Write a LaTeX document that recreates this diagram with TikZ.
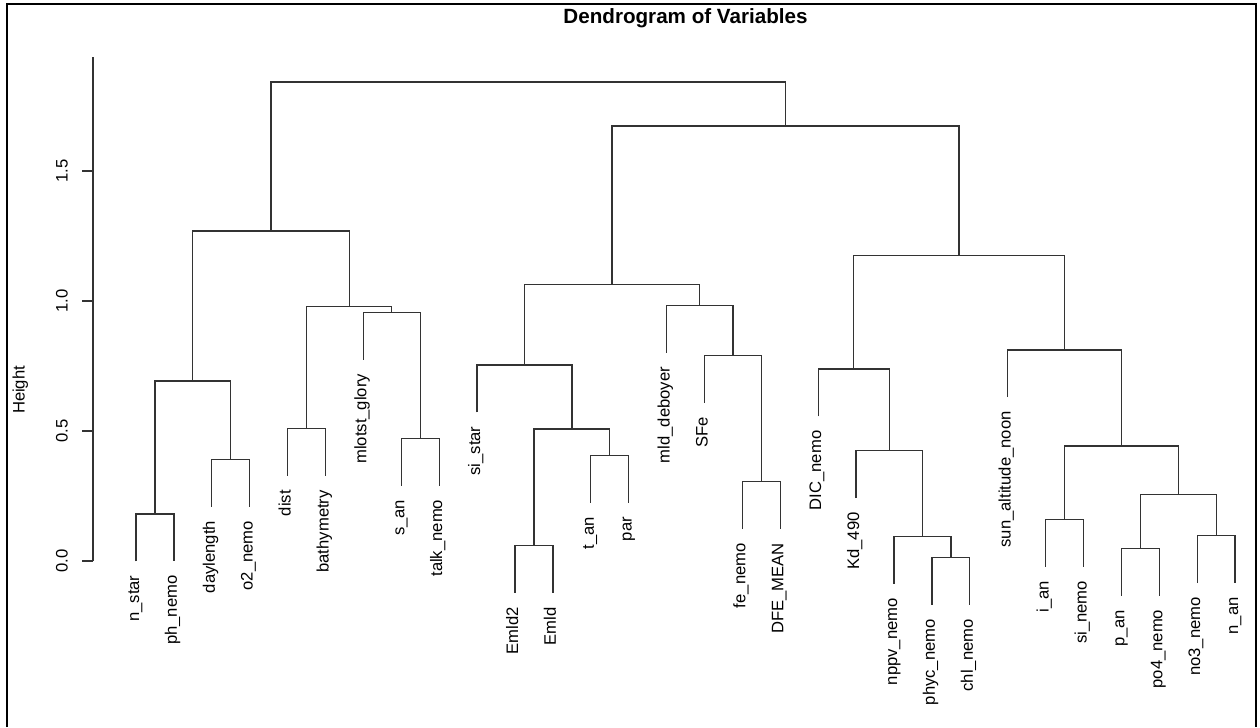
\documentclass[tikz,border=0pt]{standalone}
\usepackage{fontspec}
\setmainfont{Liberation Sans}
\usepackage{tikz}
\usetikzlibrary{positioning, calc}
\tikzset{
	branch/.style={
			draw=black!80,
			line width=1.1pt
		},
	framebox/.style={
			draw=black,
			line width=1.7pt
		},
	leaflabel/.style={
			rotate=90,
			anchor=base east,
			inner sep=0pt,
			font=\fontsize{14.2pt}{17pt}\selectfont
		},
	ticklabel/.style={
			rotate=90,
			anchor=base,
			inner sep=0pt,
			font=\fontsize{14.2pt}{17pt}\selectfont
		}
}
\tikzset{
	titletext/.style={anchor=base, inner sep=0pt, font=\fontsize{17.6pt}{21pt}\selectfont\bfseries}
}

\begin{document}
\begin{tikzpicture}[x=0.03cm, y=7.8cm]
\useasboundingbox (0,-0.63846) rectangle (1260,2.15769);

\draw[framebox] (7,-0.63846) -- (7,2.1435) -- (1256,2.1435) -- (1256,-0.63846);

\node[titletext] (title) at (685.5,2.068) {Dendrogram of Variables};

% axis
\draw[branch] (93,0) -- (93,1.937);
\draw[branch] (93,0) -- (82.3,0);
\draw[branch] (93,0.5) -- (82.3,0.5);
\draw[branch] (93,1.0) -- (82.3,1.0);
\draw[branch] (93,1.5) -- (82.3,1.5);
\node[ticklabel] (t0) at (67.5,0) {0.0};
\node[ticklabel] (t1) at (67.5,0.5) {0.5};
\node[ticklabel] (t2) at (67.5,1.0) {1.0};
\node[ticklabel] (t3) at (67.5,1.5) {1.5};
\node[ticklabel] (ylab) at (24.5,0.658) {Height};

% leaf ends
\coordinate (e1) at (136.0,-0.001);
\coordinate (e2) at (173.9,-0.001);
\coordinate (e3) at (211.8,0.209);
\coordinate (e4) at (249.7,0.209);
\coordinate (e5) at (287.6,0.327);
\coordinate (e6) at (325.5,0.327);
\coordinate (e7) at (363.4,0.774);
\coordinate (e8) at (401.3,0.290);
\coordinate (e9) at (439.2,0.290);
\coordinate (e10) at (477.1,0.572);
\coordinate (e11) at (515.0,-0.123);
\coordinate (e12) at (552.9,-0.123);
\coordinate (e13) at (590.8,0.224);
\coordinate (e14) at (628.7,0.224);
\coordinate (e15) at (666.6,0.801);
\coordinate (e16) at (704.5,0.609);
\coordinate (e17) at (742.4,0.123);
\coordinate (e18) at (780.3,0.123);
\coordinate (e19) at (818.2,0.556);
\coordinate (e20) at (856.1,0.242);
\coordinate (e21) at (894.0,-0.088);
\coordinate (e22) at (931.9,-0.169);
\coordinate (e23) at (969.8,-0.169);
\coordinate (e24) at (1007.7,0.630);
\coordinate (e25) at (1045.6,-0.022);
\coordinate (e26) at (1083.5,-0.022);
\coordinate (e27) at (1121.4,-0.133);
\coordinate (e28) at (1159.3,-0.133);
\coordinate (e29) at (1197.2,-0.085);
\coordinate (e30) at (1235.1,-0.085);

% leaf labels
\node[leaflabel] (l1) at ([xshift=0.09cm, yshift=-0.42cm]e1) {n\_star};
\node[leaflabel] (l2) at ([xshift=0.09cm, yshift=-0.42cm]e2) {ph\_nemo};
\node[leaflabel] (l3) at ([xshift=0.09cm, yshift=-0.42cm]e3) {daylength};
\node[leaflabel] (l4) at ([xshift=0.09cm, yshift=-0.42cm]e4) {o2\_nemo};
\node[leaflabel] (l5) at ([xshift=0.09cm, yshift=-0.42cm]e5) {dist};
\node[leaflabel] (l6) at ([xshift=0.09cm, yshift=-0.42cm]e6) {bathymetry};
\node[leaflabel] (l7) at ([xshift=0.09cm, yshift=-0.42cm]e7) {mlotst\_glory};
\node[leaflabel] (l8) at ([xshift=0.09cm, yshift=-0.42cm]e8) {s\_an};
\node[leaflabel] (l9) at ([xshift=0.09cm, yshift=-0.42cm]e9) {talk\_nemo};
\node[leaflabel] (l10) at ([xshift=0.09cm, yshift=-0.42cm]e10) {si\_star};
\node[leaflabel] (l11) at ([xshift=0.09cm, yshift=-0.42cm]e11) {Emld2};
\node[leaflabel] (l12) at ([xshift=0.09cm, yshift=-0.42cm]e12) {Emld};
\node[leaflabel] (l13) at ([xshift=0.09cm, yshift=-0.42cm]e13) {t\_an};
\node[leaflabel] (l14) at ([xshift=0.09cm, yshift=-0.42cm]e14) {par};
\node[leaflabel] (l15) at ([xshift=0.09cm, yshift=-0.42cm]e15) {mld\_deboyer};
\node[leaflabel] (l16) at ([xshift=0.09cm, yshift=-0.42cm]e16) {SFe};
\node[leaflabel] (l17) at ([xshift=0.09cm, yshift=-0.42cm]e17) {fe\_nemo};
\node[leaflabel] (l18) at ([xshift=0.09cm, yshift=-0.42cm]e18) {DFE\_MEAN};
\node[leaflabel] (l19) at ([xshift=0.09cm, yshift=-0.42cm]e19) {DIC\_nemo};
\node[leaflabel] (l20) at ([xshift=0.09cm, yshift=-0.42cm]e20) {Kd\_490};
\node[leaflabel] (l21) at ([xshift=0.09cm, yshift=-0.42cm]e21) {nppv\_nemo};
\node[leaflabel] (l22) at ([xshift=0.09cm, yshift=-0.42cm]e22) {phyc\_nemo};
\node[leaflabel] (l23) at ([xshift=0.09cm, yshift=-0.42cm]e23) {chl\_nemo};
\node[leaflabel] (l24) at ([xshift=0.09cm, yshift=-0.42cm]e24) {sun\_altitude\_noon};
\node[leaflabel] (l25) at ([xshift=0.09cm, yshift=-0.42cm]e25) {i\_an};
\node[leaflabel] (l26) at ([xshift=0.09cm, yshift=-0.42cm]e26) {si\_nemo};
\node[leaflabel] (l27) at ([xshift=0.09cm, yshift=-0.42cm]e27) {p\_an};
\node[leaflabel] (l28) at ([xshift=0.09cm, yshift=-0.42cm]e28) {po4\_nemo};
\node[leaflabel] (l29) at ([xshift=0.09cm, yshift=-0.42cm]e29) {no3\_nemo};
\node[leaflabel] (l30) at ([xshift=0.09cm, yshift=-0.42cm]e30) {n\_an};

% merges
\coordinate (a1) at (154.95,0.181);
\coordinate (a2) at (230.75,0.391);
\coordinate (a3) at (192.85,0.692);
\coordinate (a4) at (306.55,0.509);
\coordinate (a5) at (420.25,0.472);
\coordinate (a6) at (391.8,0.956);
\coordinate (a7) at (349.2,0.980);
\coordinate (a8) at (271.0,1.269);

\coordinate (b1) at (533.95,0.059);
\coordinate (b2) at (609.75,0.406);
\coordinate (b3) at (571.85,0.508);
\coordinate (b4) at (524.5,0.754);
\coordinate (b5) at (761.35,0.305);
\coordinate (b6) at (732.9,0.791);
\coordinate (b7) at (699.75,0.983);
\coordinate (b8) at (612.1,1.064);

\coordinate (c1) at (950.85,0.013);
\coordinate (c2) at (922.4,0.094);
\coordinate (c3) at (889.25,0.424);
\coordinate (c4) at (853.7,0.738);
\coordinate (c5) at (1064.55,0.160);
\coordinate (c6) at (1140.35,0.049);
\coordinate (c7) at (1216.15,0.097);
\coordinate (c8) at (1178.25,0.255);
\coordinate (c9) at (1121.4,0.442);
\coordinate (c10) at (1064.55,0.812);
\coordinate (c11) at (959.1,1.176);
\coordinate (c12) at (785.6,1.673);
\coordinate (root) at (528.3,1.842);

\draw[branch] (e1) |- (a1) -| (e2);
\draw[branch] (e3) |- (a2) -| (e4);
\draw[branch] (a1) |- (a3) -| (a2);
\draw[branch] (e5) |- (a4) -| (e6);
\draw[branch] (e8) |- (a5) -| (e9);
\draw[branch] (e7) |- (a6) -| (a5);
\draw[branch] (a4) |- (a7) -| (a6);
\draw[branch] (a3) |- (a8) -| (a7);

\draw[branch] (e11) |- (b1) -| (e12);
\draw[branch] (e13) |- (b2) -| (e14);
\draw[branch] (b1) |- (b3) -| (b2);
\draw[branch] (e10) |- (b4) -| (b3);
\draw[branch] (e17) |- (b5) -| (e18);
\draw[branch] (e16) |- (b6) -| (b5);
\draw[branch] (e15) |- (b7) -| (b6);
\draw[branch] (b4) |- (b8) -| (b7);

\draw[branch] (e22) |- (c1) -| (e23);
\draw[branch] (e21) |- (c2) -| (c1);
\draw[branch] (e20) |- (c3) -| (c2);
\draw[branch] (e19) |- (c4) -| (c3);
\draw[branch] (e25) |- (c5) -| (e26);
\draw[branch] (e27) |- (c6) -| (e28);
\draw[branch] (e29) |- (c7) -| (e30);
\draw[branch] (c6) |- (c8) -| (c7);
\draw[branch] (c5) |- (c9) -| (c8);
\draw[branch] (e24) |- (c10) -| (c9);
\draw[branch] (c4) |- (c11) -| (c10);
\draw[branch] (b8) |- (c12) -| (c11);

\draw[branch] (a8) |- (root) -| (c12);
\end{tikzpicture}
\end{document}
